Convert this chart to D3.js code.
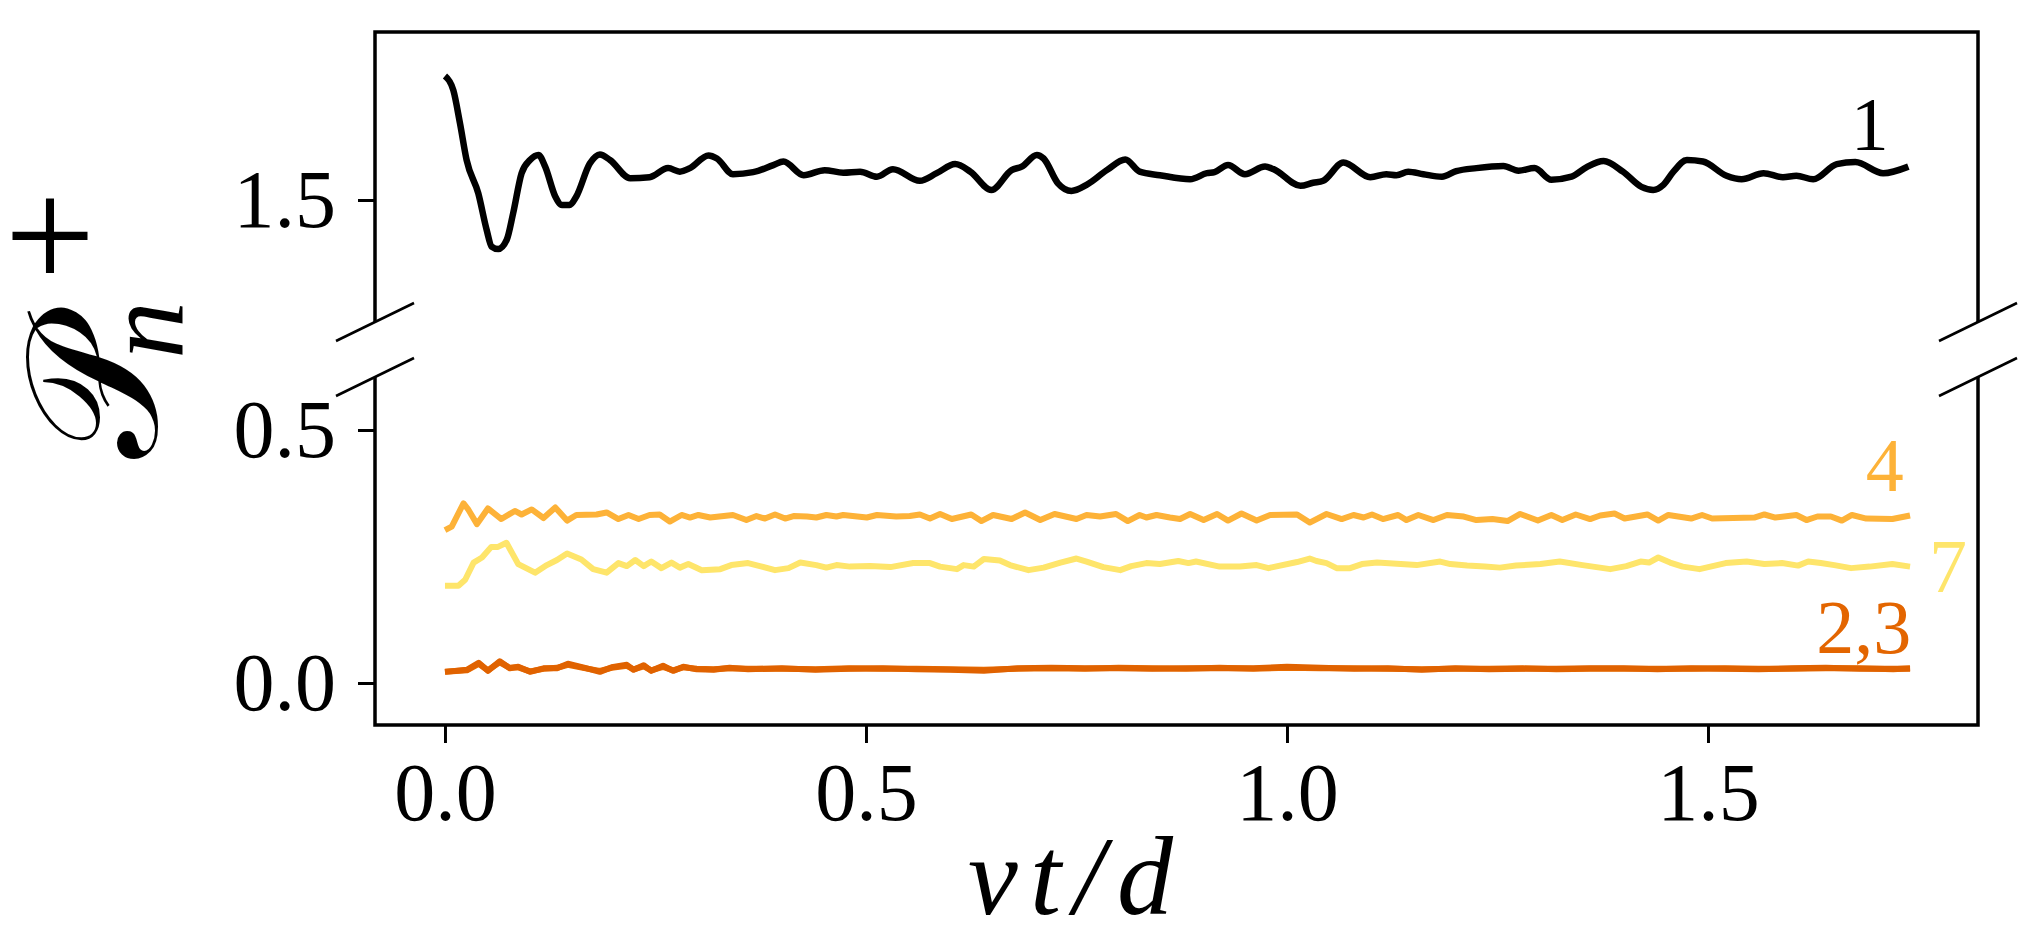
<!DOCTYPE html>
<html>
<head>
<meta charset="utf-8">
<script src="https://cdn.jsdelivr.net/npm/d3@7"></script>
<style>
  html, body { margin: 0; padding: 0; background: #fff; }
  svg { display: block; }
</style>
</head>
<body>
<svg id="chart" width="2031" height="945"></svg>
<script>
// =============================================================================
// Broken-axis line chart: P_n^+ vs vt/d for ranks 1, 2, 3, 4, 7.
// Upper panel holds rank 1, lower panel the rest.
// =============================================================================

// ---- data ------------------------------------------------------------------
const t1 = [0, 0.0099, 0.0178, 0.0257, 0.0396, 0.0495, 0.0554, 0.0633, 0.0733, 0.081,
  0.091, 0.101, 0.111, 0.119, 0.131, 0.139, 0.148, 0.156, 0.172, 0.184,
  0.196, 0.220, 0.243, 0.265, 0.279, 0.291, 0.313, 0.323, 0.342, 0.366,
  0.390, 0.402, 0.426, 0.451, 0.473, 0.493, 0.513, 0.532, 0.564, 0.584,
  0.606, 0.624, 0.649, 0.673, 0.685, 0.703, 0.711, 0.728, 0.744, 0.762,
  0.786, 0.808, 0.825, 0.849, 0.885, 0.905, 0.914, 0.930, 0.950, 0.974,
  0.984, 1.016, 1.031, 1.043, 1.067, 1.099, 1.118, 1.130, 1.144, 1.162,
  1.184, 1.201, 1.225, 1.257, 1.275, 1.294, 1.314, 1.338, 1.356, 1.376,
  1.399, 1.421, 1.435, 1.447, 1.459, 1.475, 1.494, 1.522, 1.540, 1.566,
  1.589, 1.605, 1.625, 1.653, 1.675, 1.708, 1.738];
const p1 = [1.745, 1.717, 1.652, 1.579, 1.513, 1.441, 1.408, 1.403, 1.421, 1.474,
  1.553, 1.579, 1.589, 1.566, 1.507, 1.490, 1.490, 1.507, 1.572, 1.590,
  1.579, 1.543, 1.545, 1.563, 1.556, 1.563, 1.588, 1.582, 1.551, 1.555,
  1.569, 1.576, 1.549, 1.559, 1.554, 1.556, 1.546, 1.561, 1.538, 1.553,
  1.571, 1.556, 1.520, 1.559, 1.566, 1.589, 1.582, 1.533, 1.518, 1.530,
  1.559, 1.580, 1.556, 1.549, 1.541, 1.553, 1.555, 1.569, 1.551, 1.566,
  1.561, 1.528, 1.534, 1.538, 1.574, 1.545, 1.551, 1.549, 1.556, 1.551,
  1.546, 1.557, 1.563, 1.567, 1.558, 1.563, 1.540, 1.546, 1.565, 1.577,
  1.556, 1.526, 1.520, 1.530, 1.556, 1.579, 1.576, 1.548, 1.541, 1.553,
  1.545, 1.548, 1.541, 1.571, 1.575, 1.553, 1.566];

const t23 = [0, 0.026, 0.040, 0.051, 0.065, 0.077, 0.087, 0.101, 0.117, 0.133,
  0.146, 0.164, 0.184, 0.198, 0.216, 0.224, 0.236, 0.245, 0.259, 0.271,
  0.283, 0.299, 0.319, 0.338, 0.36, 0.40, 0.44, 0.48, 0.52, 0.56,
  0.60, 0.64, 0.68, 0.72, 0.76, 0.80, 0.84, 0.88, 0.92, 0.96,
  1.00, 1.04, 1.08, 1.12, 1.16, 1.20, 1.24, 1.28, 1.32, 1.36,
  1.40, 1.44, 1.48, 1.52, 1.56, 1.60, 1.64, 1.68, 1.72, 1.74];
const p2 = [0.022, 0.026, 0.040, 0.024, 0.043, 0.029, 0.032, 0.022, 0.029, 0.029,
  0.038, 0.031, 0.022, 0.031, 0.036, 0.026, 0.035, 0.024, 0.034, 0.024,
  0.032, 0.027, 0.026, 0.030, 0.027, 0.029, 0.026, 0.028, 0.029, 0.027,
  0.026, 0.024, 0.029, 0.030, 0.029, 0.029, 0.028, 0.029, 0.029, 0.029,
  0.032, 0.030, 0.028, 0.029, 0.026, 0.029, 0.027, 0.028, 0.028, 0.029,
  0.029, 0.027, 0.029, 0.028, 0.027, 0.029, 0.030, 0.028, 0.028, 0.028];
const p3 = [0.022, 0.025, 0.038, 0.025, 0.041, 0.030, 0.031, 0.023, 0.028, 0.030,
  0.036, 0.030, 0.024, 0.030, 0.034, 0.027, 0.033, 0.025, 0.032, 0.025,
  0.031, 0.028, 0.027, 0.029, 0.028, 0.028, 0.027, 0.029, 0.028, 0.028,
  0.027, 0.026, 0.028, 0.029, 0.028, 0.030, 0.029, 0.028, 0.030, 0.028,
  0.030, 0.029, 0.029, 0.028, 0.027, 0.028, 0.028, 0.029, 0.027, 0.028,
  0.028, 0.028, 0.028, 0.029, 0.028, 0.028, 0.029, 0.029, 0.027, 0.029];

const t4 = [0, 0.008, 0.022, 0.028, 0.038, 0.051, 0.067, 0.083, 0.091, 0.103,
  0.117, 0.131, 0.145, 0.156, 0.180, 0.192, 0.206, 0.218, 0.230, 0.243,
  0.255, 0.267, 0.281, 0.291, 0.301, 0.315, 0.342, 0.358, 0.370, 0.380,
  0.392, 0.404, 0.414, 0.430, 0.441, 0.453, 0.465, 0.473, 0.501, 0.513,
  0.536, 0.552, 0.564, 0.576, 0.588, 0.602, 0.625, 0.637, 0.651, 0.673,
  0.689, 0.707, 0.724, 0.750, 0.762, 0.778, 0.797, 0.811, 0.825, 0.833,
  0.845, 0.861, 0.873, 0.885, 0.901, 0.917, 0.930, 0.946, 0.964, 0.980,
  1.012, 1.027, 1.047, 1.065, 1.079, 1.091, 1.101, 1.114, 1.132, 1.142,
  1.156, 1.174, 1.190, 1.210, 1.225, 1.244, 1.262, 1.277, 1.298, 1.314,
  1.327, 1.343, 1.360, 1.372, 1.389, 1.401, 1.428, 1.441, 1.453, 1.480,
  1.493, 1.505, 1.555, 1.567, 1.580, 1.605, 1.617, 1.630, 1.646, 1.659,
  1.671, 1.688, 1.719, 1.740];
const p4 = [0.302, 0.309, 0.355, 0.342, 0.314, 0.345, 0.324, 0.340, 0.333, 0.343,
  0.326, 0.347, 0.321, 0.332, 0.333, 0.337, 0.324, 0.332, 0.324, 0.332,
  0.333, 0.319, 0.332, 0.327, 0.332, 0.327, 0.332, 0.322, 0.330, 0.325,
  0.333, 0.325, 0.330, 0.329, 0.327, 0.332, 0.329, 0.332, 0.327, 0.332,
  0.329, 0.330, 0.333, 0.325, 0.334, 0.324, 0.333, 0.320, 0.332, 0.324,
  0.337, 0.322, 0.334, 0.324, 0.332, 0.329, 0.334, 0.320, 0.332, 0.327,
  0.332, 0.327, 0.324, 0.334, 0.322, 0.334, 0.321, 0.335, 0.321, 0.332,
  0.333, 0.317, 0.334, 0.324, 0.332, 0.327, 0.333, 0.324, 0.332, 0.322,
  0.332, 0.322, 0.332, 0.329, 0.322, 0.324, 0.320, 0.334, 0.321, 0.332,
  0.322, 0.333, 0.324, 0.331, 0.335, 0.325, 0.333, 0.321, 0.332, 0.325,
  0.332, 0.325, 0.327, 0.333, 0.327, 0.332, 0.322, 0.329, 0.329, 0.321,
  0.332, 0.325, 0.324, 0.331];

const t7 = [0, 0.016, 0.024, 0.034, 0.044, 0.055, 0.063, 0.073, 0.087, 0.107,
  0.121, 0.133, 0.145, 0.162, 0.176, 0.192, 0.206, 0.216, 0.226, 0.236,
  0.245, 0.257, 0.269, 0.279, 0.289, 0.305, 0.327, 0.340, 0.360, 0.374,
  0.392, 0.408, 0.422, 0.441, 0.453, 0.465, 0.481, 0.505, 0.529, 0.556,
  0.576, 0.588, 0.608, 0.616, 0.628, 0.640, 0.659, 0.671, 0.693, 0.711,
  0.731, 0.750, 0.762, 0.782, 0.802, 0.815, 0.833, 0.849, 0.871, 0.883,
  0.892, 0.920, 0.944, 0.964, 0.978, 1.012, 1.027, 1.035, 1.047, 1.059,
  1.075, 1.089, 1.107, 1.154, 1.182, 1.194, 1.214, 1.235, 1.253, 1.272,
  1.301, 1.324, 1.351, 1.384, 1.403, 1.420, 1.430, 1.441, 1.455, 1.470,
  1.490, 1.521, 1.546, 1.567, 1.588, 1.607, 1.619, 1.634, 1.650, 1.670,
  1.692, 1.719, 1.740];
const p7 = [0.192, 0.192, 0.204, 0.238, 0.248, 0.269, 0.269, 0.277, 0.235, 0.218,
  0.233, 0.243, 0.256, 0.244, 0.225, 0.218, 0.237, 0.231, 0.243, 0.231,
  0.240, 0.227, 0.238, 0.228, 0.235, 0.223, 0.225, 0.233, 0.237, 0.231,
  0.223, 0.227, 0.238, 0.233, 0.228, 0.233, 0.230, 0.231, 0.229, 0.237,
  0.237, 0.230, 0.225, 0.233, 0.230, 0.245, 0.242, 0.233, 0.223, 0.228,
  0.238, 0.246, 0.240, 0.229, 0.223, 0.231, 0.237, 0.235, 0.241, 0.237,
  0.240, 0.230, 0.230, 0.233, 0.227, 0.239, 0.246, 0.241, 0.237, 0.227,
  0.227, 0.235, 0.238, 0.233, 0.240, 0.235, 0.232, 0.230, 0.228, 0.232,
  0.235, 0.240, 0.233, 0.225, 0.231, 0.240, 0.238, 0.248, 0.238, 0.230,
  0.225, 0.237, 0.240, 0.235, 0.237, 0.232, 0.240, 0.237, 0.233, 0.227,
  0.230, 0.235, 0.230];

const xTicks = [0.0, 0.5, 1.0, 1.5];
const yTicksTop = [1.5];
const yTicksBottom = [0.0, 0.5];
const xDomain = [-0.0831, 1.8207];
const yDomainTop = [1.2589, 1.8320];
const yDomainBottom = [-0.0830, 0.6047];

// ---- layout ----------------------------------------------------------------
const LEFT = 375, RIGHT = 1978;
const TOP_Y0 = 32, TOP_Y1 = 322;
const BOT_Y0 = 377, BOT_Y1 = 725;
const SERIF = "'Liberation Serif', 'Times New Roman', serif";

const svg = d3.select('#chart');

const x = d3.scaleLinear().domain(xDomain).range([LEFT, RIGHT]);
const yTop = d3.scaleLinear().domain(yDomainTop).range([TOP_Y1, TOP_Y0]);
const yBot = d3.scaleLinear().domain(yDomainBottom).range([BOT_Y1, BOT_Y0]);

// ---- frames (no spine at the break) ----------------------------------------
svg.append('path')
  .attr('d', `M${LEFT},${TOP_Y1}V${TOP_Y0}H${RIGHT}V${TOP_Y1}`)
  .attr('fill', 'none').attr('stroke', '#000').attr('stroke-width', 3.5)
  .attr('stroke-linejoin', 'miter');
svg.append('path')
  .attr('d', `M${LEFT},${BOT_Y0}V${BOT_Y1}H${RIGHT}V${BOT_Y0}`)
  .attr('fill', 'none').attr('stroke', '#000').attr('stroke-width', 3.5)
  .attr('stroke-linejoin', 'miter');

// diagonal break marks
const breaks = [[LEFT, TOP_Y1], [LEFT, BOT_Y0], [RIGHT, TOP_Y1], [RIGHT, BOT_Y0]];
svg.append('g')
  .selectAll('line')
  .data(breaks)
  .join('line')
  .attr('x1', d => d[0] - 39).attr('y1', d => d[1] + 19)
  .attr('x2', d => d[0] + 39).attr('y2', d => d[1] - 19)
  .attr('stroke', '#000').attr('stroke-width', 2.6);

// ---- axes ------------------------------------------------------------------
function styleAxis(g) {
  g.select('.domain').remove();
  g.selectAll('.tick line').attr('stroke', '#000').attr('stroke-width', 3);
  g.selectAll('.tick text')
    .attr('fill', '#000')
    .style('font-family', SERIF)
    .style('font-size', '82px');
}

svg.append('g')
  .attr('transform', `translate(${LEFT},0)`)
  .call(d3.axisLeft(yTop).tickValues(yTicksTop).tickSize(17).tickPadding(22).tickFormat(d3.format('.1f')))
  .call(styleAxis);

svg.append('g')
  .attr('transform', `translate(${LEFT},0)`)
  .call(d3.axisLeft(yBot).tickValues(yTicksBottom).tickSize(17).tickPadding(22).tickFormat(d3.format('.1f')))
  .call(styleAxis);

svg.append('g')
  .attr('transform', `translate(0,${BOT_Y1})`)
  .call(d3.axisBottom(x).tickValues(xTicks).tickSize(18).tickPadding(19).tickFormat(d3.format('.1f')))
  .call(styleAxis);

// ---- series ----------------------------------------------------------------
const series = [
  { t: t7, v: p7, color: '#FEE56B', y: yBot, width: 6, curve: d3.curveLinear },
  { t: t4, v: p4, color: '#FDB238', y: yBot, width: 6, curve: d3.curveLinear },
  { t: t23, v: p3, color: '#E86C00', y: yBot, width: 6, curve: d3.curveLinear },
  { t: t23, v: p2, color: '#E06200', y: yBot, width: 6, curve: d3.curveLinear },
  { t: t1, v: p1, color: '#000000', y: yTop, width: 6.5, curve: d3.curveMonotoneX }
];

series.forEach(s => {
  const line = d3.line()
    .x((_, i) => x(s.t[i]))
    .y(d => s.y(d))
    .curve(s.curve);
  svg.append('path')
    .datum(s.v)
    .attr('d', line)
    .attr('fill', 'none')
    .attr('stroke', s.color)
    .attr('stroke-width', s.width)
    .attr('stroke-linejoin', 'round');
});

// ---- inline series labels --------------------------------------------------
const labels = [
  { text: '1', color: '#000000', x: x(1.692), y: yTop(1.599) },
  { text: '4', color: '#FDB238', x: x(1.710), y: yBot(0.379) },
  { text: '7', color: '#FEE56B', x: x(1.785), y: yBot(0.180) },
  { text: '2,3', color: '#E36500', x: x(1.685), y: yBot(0.059) }
];
svg.append('g')
  .selectAll('text')
  .data(labels)
  .join('text')
  .attr('x', d => d.x)
  .attr('y', d => d.y)
  .attr('text-anchor', 'middle')
  .attr('fill', d => d.color)
  .style('font-family', SERIF)
  .style('font-size', '76px')
  .text(d => d.text);

// ---- axis titles -----------------------------------------------------------
svg.append('text')
  .attr('x', 968)
  .attr('y', 914)
  .attr('textLength', 205)
  .attr('lengthAdjust', 'spacing')
  .style('font-family', SERIF)
  .style('font-style', 'italic')
  .style('font-size', '112px')
  .text('vt/d');

// y title: script P with subscript n and superscript +, rotated
svg.append('text')
  .attr('transform', 'translate(156,392) rotate(-90)')
  .attr('text-anchor', 'middle')
  .style('font-family', "'DejaVu Serif', 'Noto Sans', serif")
  .style('font-size', '184px')
  .text('𝒫');
svg.append('text')
  .attr('transform', 'translate(183,330) rotate(-90)')
  .attr('text-anchor', 'middle')
  .style('font-family', SERIF)
  .style('font-style', 'italic')
  .style('font-size', '115px')
  .text('n');
svg.append('text')
  .attr('transform', 'translate(104,236) rotate(-90)')
  .attr('text-anchor', 'middle')
  .style('font-family', SERIF)
  .style('font-size', '160px')
  .text('+');
</script>
</body>
</html>
